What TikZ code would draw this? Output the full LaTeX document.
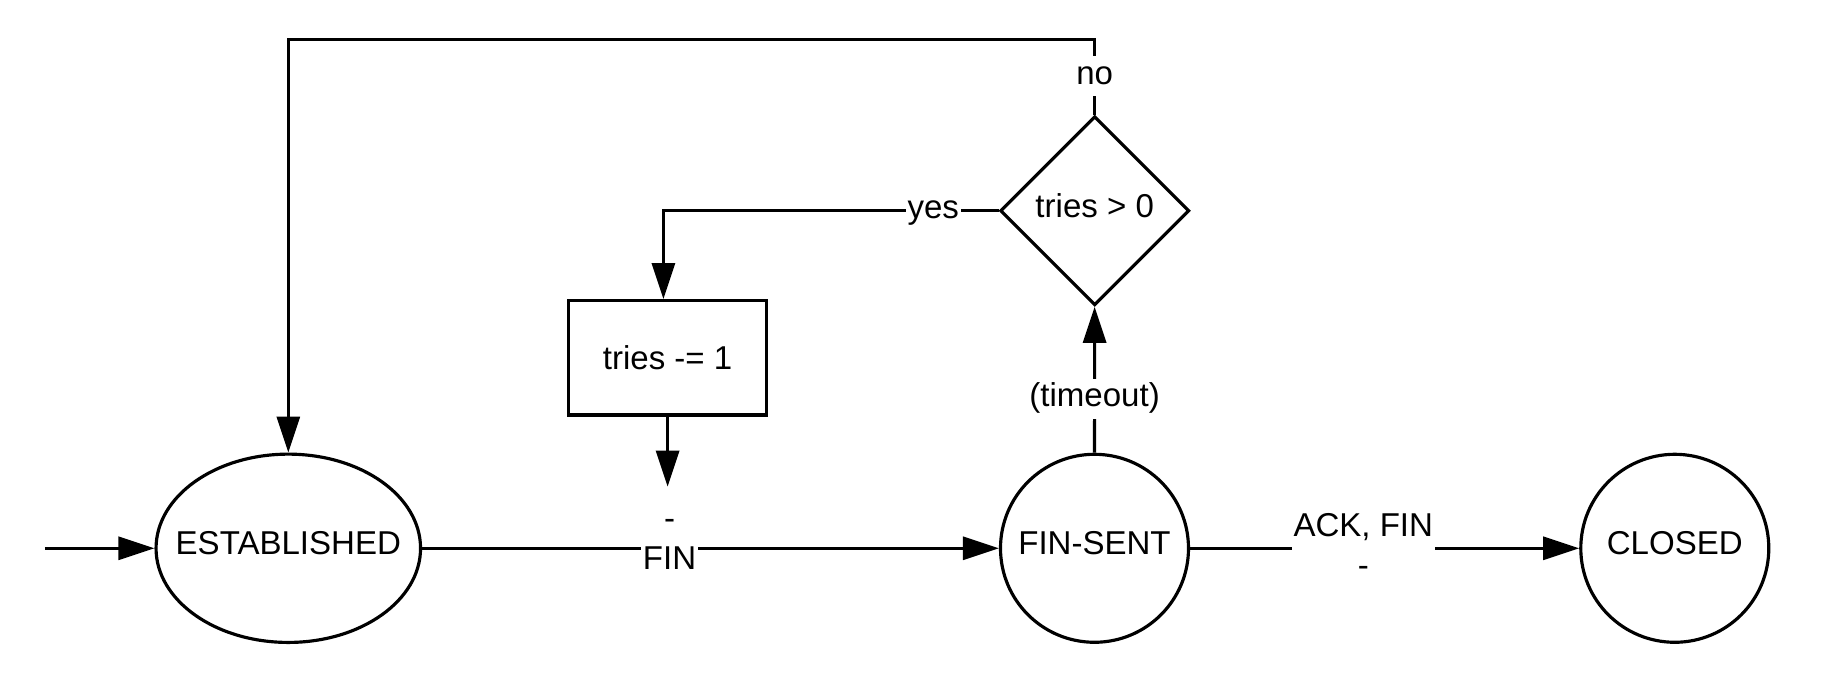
\documentclass[tikz,border=0pt]{standalone}
\usepackage{fontspec}
\setmainfont{Liberation Sans}
\usetikzlibrary{arrows.meta,shapes.geometric}

\begin{document}
\begin{tikzpicture}[
  x=1cm,y=1cm,
  font=\fontsize{9.4}{11.4}\selectfont,
  state/.style={draw,line width=0.9pt,inner sep=0pt},
  ring/.style={state,text depth=3.1pt},
  arr/.style={-{Triangle[length=3.6mm,width=2.3mm]},line width=0.9pt},
  lbl/.style={fill=white,inner xsep=0.5pt,inner ysep=0pt,align=center,execute at begin node=\strut},
]
\useasboundingbox (0,0) rectangle (18.23,6.79);

\node[ring,ellipse,minimum width=2.645cm,minimum height=1.883cm] (est) at (2.883,1.307) {\makebox[0pt]{ESTABLISHED}};
\node[ring,circle,minimum size=1.88cm] (finsent) at (10.945,1.307) {FIN-SENT};
\node[ring,circle,minimum size=1.88cm] (closed) at (16.748,1.307) {CLOSED};
\node[ring,diamond,aspect=1,minimum width=1.89cm,minimum height=1.89cm] (check) at (10.947,4.682) {tries > 0};
\node[state,rectangle,minimum width=1.98cm,minimum height=1.143cm] (dec) at (6.676,3.212) {tries -= 1};

\coordinate (start) at (0.45,1.307);
\coordinate (noturn) at (10.947,6.397);
\coordinate (yesturn) at (6.634,4.682);
\coordinate (finlbl) at (6.676,1.923);

% main line
\draw[arr] (start) -- (est);
\draw[arr] (est) -- node[lbl,pos=0.429,yshift=-0.75pt] {-\\\strut FIN} (finsent);
\draw[arr] (finsent) -- node[lbl,pos=0.445,yshift=-0.75pt] {ACK, FIN\\\strut -} (closed);

% retry loop
\draw[arr] (finsent) -- node[lbl,pos=0.371] {(timeout)} (check);
\draw[arr] (check.west) -- node[lbl,pos=0.195] {yes} (yesturn) -- (yesturn |- dec.north);
\draw[arr] (dec) -- (finlbl);
\draw[arr] (check.north) -- node[lbl,pos=0.51] {no} (noturn) -| (est.north);
\end{tikzpicture}
\end{document}
